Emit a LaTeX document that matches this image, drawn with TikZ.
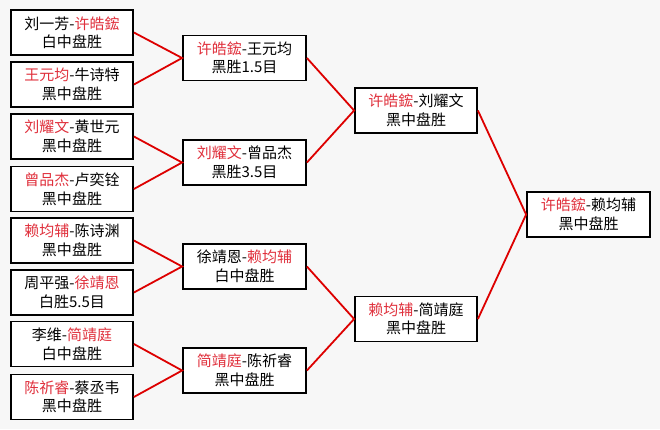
\documentclass[tikz,border=0pt]{standalone}
\usepackage{fontspec}
\setmainfont{Noto Sans CJK SC}
\definecolor{txtred}{HTML}{E0303C}
\definecolor{linered}{HTML}{DD0000}
\definecolor{bg}{HTML}{F7F7F7}
\newcommand{\rn}[1]{\textcolor{txtred}{#1}}
\begin{document}
\begin{tikzpicture}[x=1bp,y=-1bp,
  game/.style={draw=black, line width=1.8bp, fill=white, rectangle,
    minimum width=122bp, minimum height=45bp, inner sep=0pt, align=center,
    font=\fontsize{15bp}{18.5bp}\selectfont},
  link/.style={draw=linered, line width=1.8bp}]
\fill[bg] (0,0) rectangle (660,429);
\useasboundingbox (0,0) rectangle (660,429);
% round 1
\node[game] (a1) at (72,32.5) {刘一芳-\rn{许皓鋐}\\白中盘胜};
\node[game] (a2) at (72,84.5) {\rn{王元均}-牛诗特\\黑中盘胜};
\node[game] (a3) at (72,136.5) {\rn{刘耀文}-黄世元\\黑中盘胜};
\node[game] (a4) at (72,189) {\rn{曾品杰}-卢奕铨\\黑中盘胜};
\node[game] (a5) at (72,240.5) {\rn{赖均辅}-陈诗渊\\黑中盘胜};
\node[game] (a6) at (72,292.5) {周平强-\rn{徐靖恩}\\白胜5.5目};
\node[game] (a7) at (72,344) {李维-\rn{简靖庭}\\白中盘胜};
\node[game] (a8) at (72,397) {\rn{陈祈睿}-蔡丞韦\\黑中盘胜};
% round 2
\node[game,minimum width=123bp] (b1) at (244.5,58) {\rn{许皓鋐}-王元均\\黑胜1.5目};
\node[game,minimum width=123bp] (b2) at (244.5,162.5) {\rn{刘耀文}-曾品杰\\黑胜3.5目};
\node[game,minimum width=123bp] (b3) at (244.5,266.5) {徐靖恩-\rn{赖均辅}\\白中盘胜};
\node[game,minimum width=123bp] (b4) at (244.5,370.5) {\rn{简靖庭}-陈祈睿\\黑中盘胜};
% round 3
\node[game] (c1) at (416,110.5) {\rn{许皓鋐}-刘耀文\\黑中盘胜};
\node[game] (c2) at (416,319) {\rn{赖均辅}-简靖庭\\黑中盘胜};
% final
\node[game,minimum width=123bp] (d1) at (588.5,214.5) {\rn{许皓鋐}-赖均辅\\黑中盘胜};
% connectors
\draw[link] (a1.east) -- (b1.west) -- (a2.east);
\draw[link] (a3.east) -- (b2.west) -- (a4.east);
\draw[link] (a5.east) -- (b3.west) -- (a6.east);
\draw[link] (a7.east) -- (b4.west) -- (a8.east);
\draw[link] (b1.east) -- (c1.west) -- (b2.east);
\draw[link] (b3.east) -- (c2.west) -- (b4.east);
\draw[link] (c1.east) -- (d1.west) -- (c2.east);
\end{tikzpicture}
\end{document}
